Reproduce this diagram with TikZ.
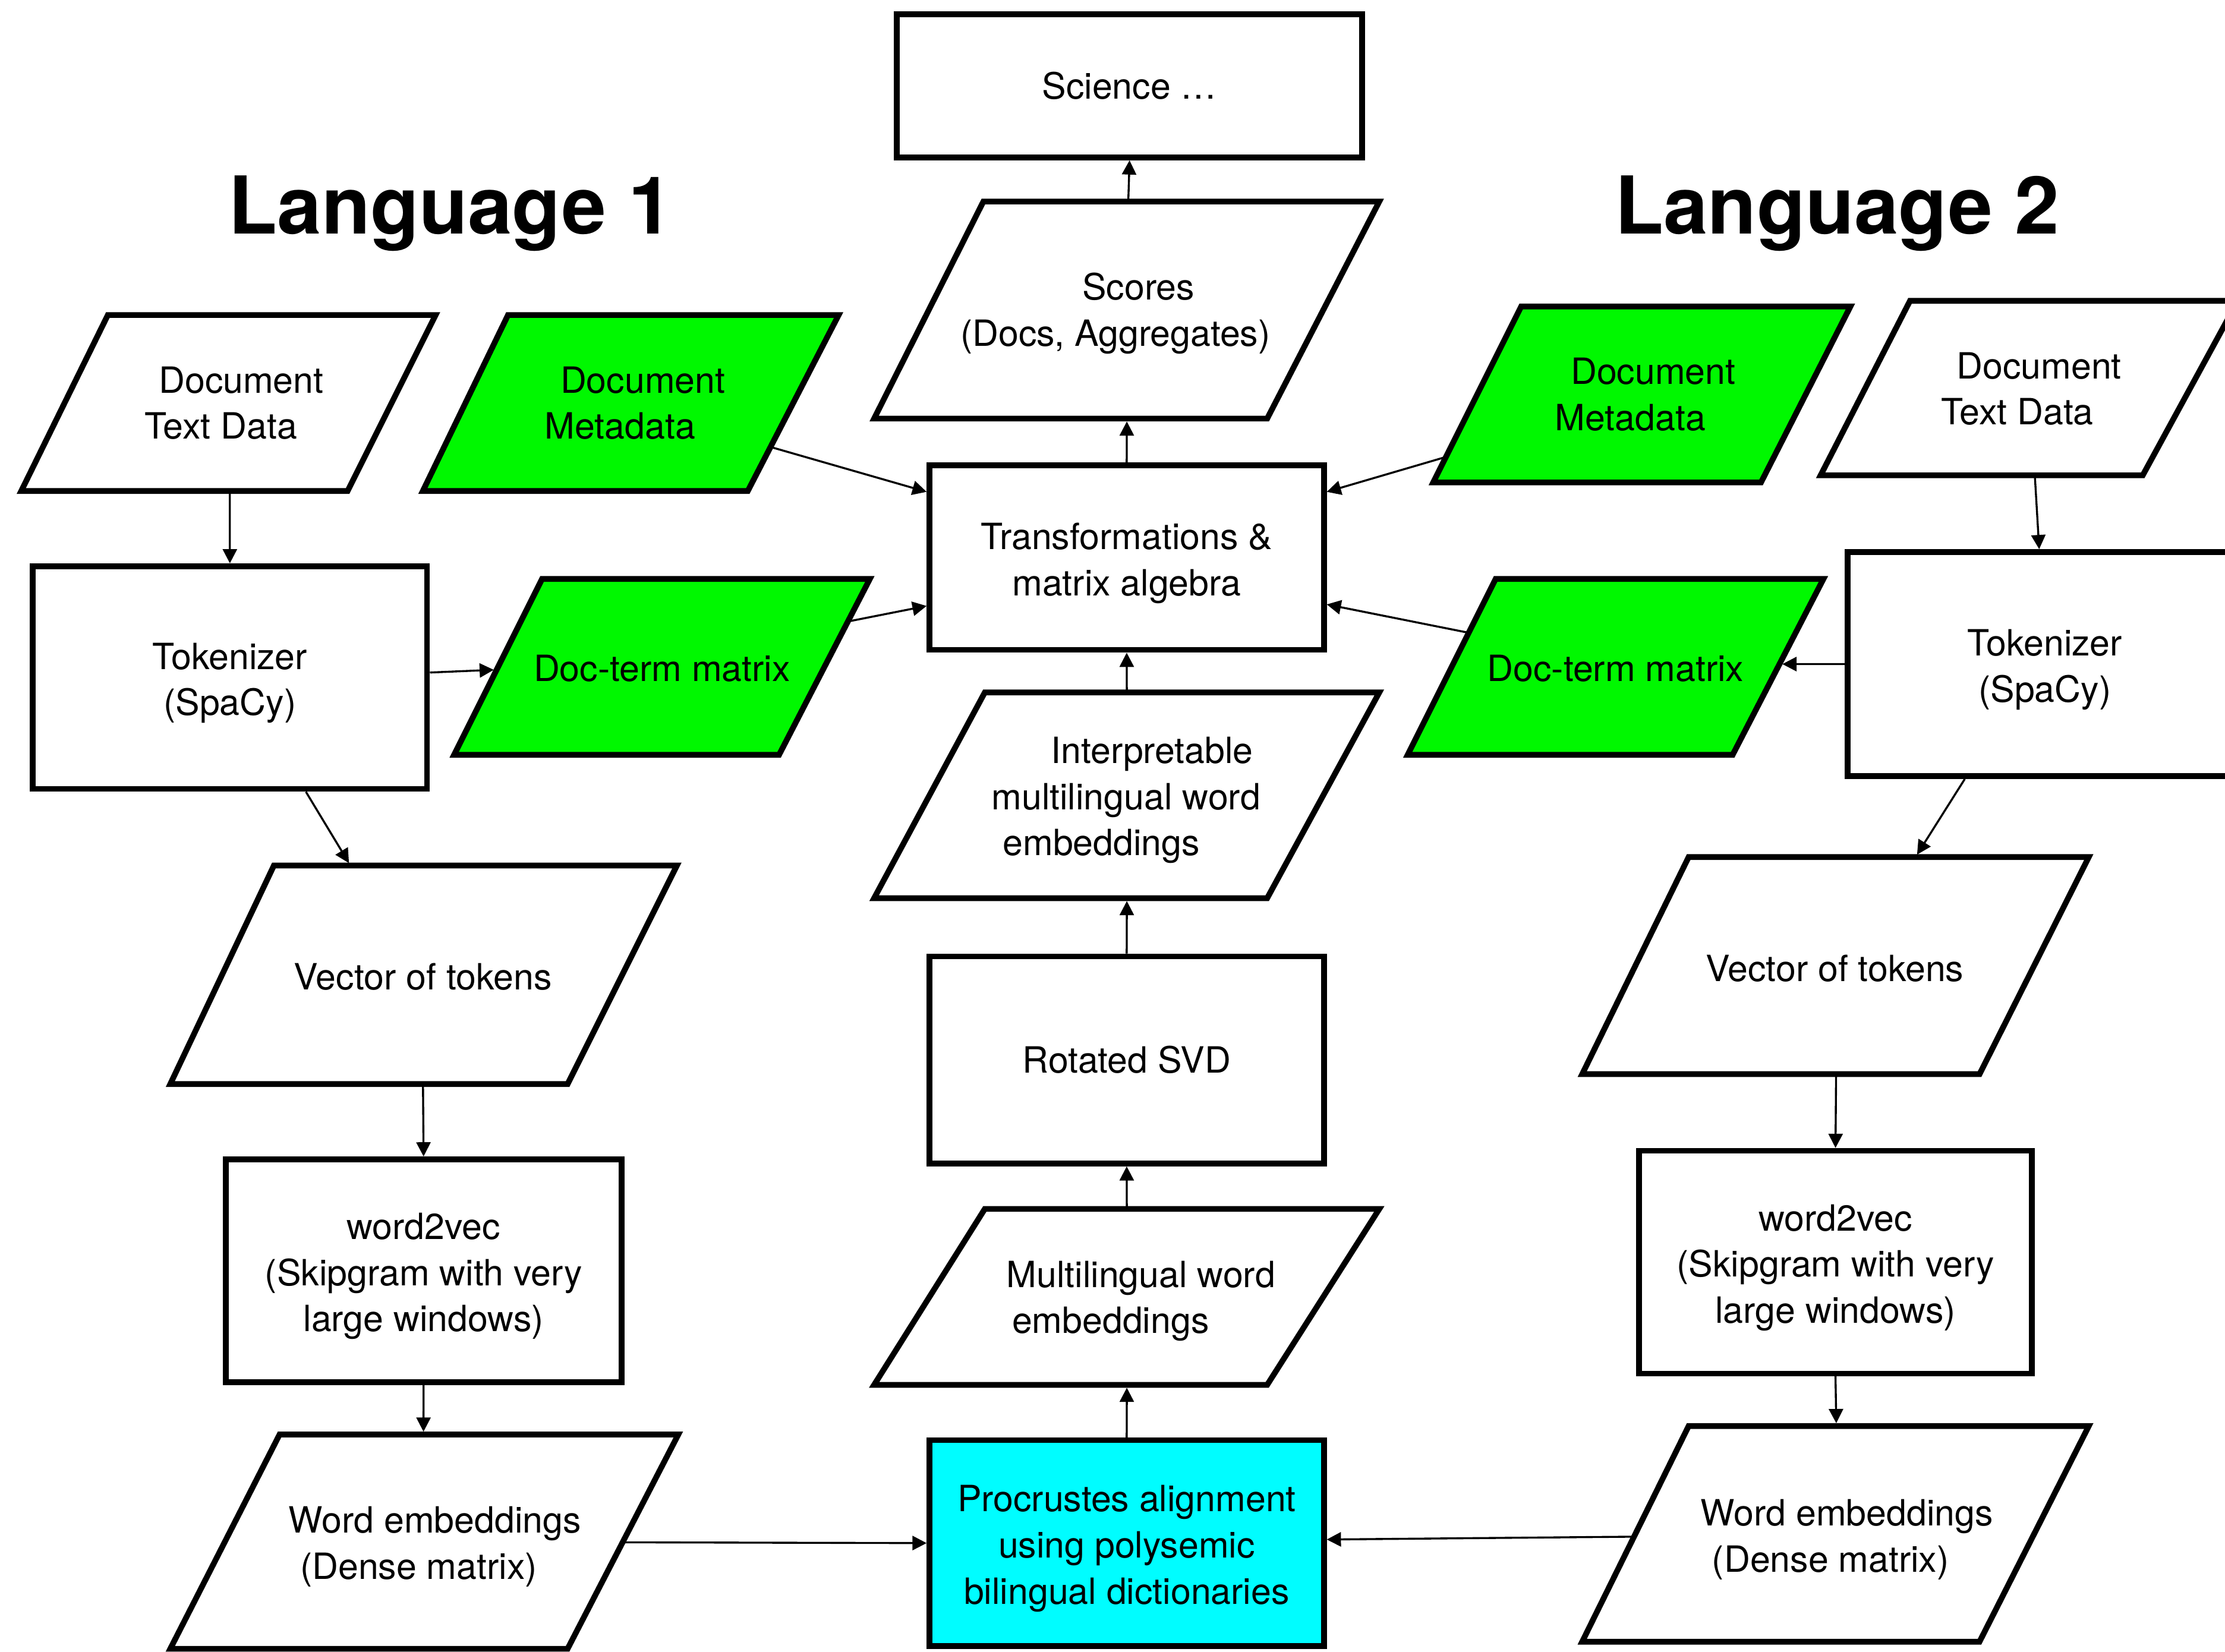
\documentclass[tikz,border=0pt]{standalone}
\usepackage{fontspec}
\setmainfont{TeX Gyre Heros}
\usetikzlibrary{arrows.meta,calc}
\definecolor{gfill}{RGB}{0,248,0}
\definecolor{cfill}{RGB}{0,253,255}
\newcommand\paragram[8]{%
  \draw[shp,fill=#8] (#2,#4) coordinate (#1-tl) -- (#3,#4) coordinate (#1-tr) -- (#6,#7) coordinate (#1-br) -- (#5,#7) coordinate (#1-bl) -- cycle;}
\newcommand\dnstrut{\rule{0pt}{15pt}}
\begin{document}
\begin{tikzpicture}[x=0.02cm,y=-0.02cm,
  shp/.style={draw=black,line width=2.3pt,line join=miter},
  rbox/.style={draw=black,fill=white,line width=2.3pt,inner sep=0pt,align=center,font=\fontsize{14.5}{18.5}\selectfont},
  txt/.style={inner sep=0pt,align=left,font=\fontsize{14.5}{18.5}\selectfont},
  ctxt/.style={inner sep=0pt,align=center,font=\fontsize{14.5}{18.5}\selectfont},
  head/.style={inner sep=0pt,anchor=base,font=\fontsize{32}{38}\selectfont\bfseries},
  arr/.style={line width=0.8pt,-{Triangle[length=0.2cm,width=0.2cm]}},
  parr/.style={arr,shorten >=1.15pt}]
\useasboundingbox (0,0) rectangle (1568,1164);
\fill[white] (0,0) rectangle (1568,1164);

% headings
\node[head] (lang1) at (317.5,165) {Language 1};
\node[head] (lang2) at (1294.5,165) {Language 2};

% centre column rectangles
\node[rbox,minimum width=6.56cm,minimum height=2.02cm] (sci) at (796,60.5) {Science …};
\node[rbox,minimum width=5.56cm,minimum height=2.6cm] (trans) at (794,393) {\dnstrut Transformations \&\\matrix algebra};
\node[rbox,minimum width=5.56cm,minimum height=2.92cm] (svd) at (794,747) {Rotated SVD};
\node[rbox,fill=cfill,minimum width=5.56cm,minimum height=2.9cm] (proc) at (794,1087.5) {\dnstrut Procrustes alignment\\using polysemic\\bilingual dictionaries};

% left rectangles
\node[rbox,minimum width=5.56cm,minimum height=3.14cm] (tokL) at (162,477.5) {\dnstrut Tokenizer\\(SpaCy)};
\node[rbox,minimum width=5.58cm,minimum height=3.14cm] (w2vL) at (298.5,895.5) {\dnstrut word2vec\\(Skipgram with very\\large windows)};

% right rectangles
\node[rbox,minimum width=5.56cm,minimum height=3.16cm] (tokR) at (1441,468) {\dnstrut Tokenizer\\(SpaCy)};
\node[rbox,minimum width=5.54cm,minimum height=3.14cm] (w2vR) at (1293.5,889.5) {\dnstrut word2vec\\(Skipgram with very\\large windows)};

% parallelograms
\paragram{scP}{693}{972}{142}{616}{893}{295}{white}
\paragram{inP}{694}{972}{488}{616}{893}{633}{white}
\paragram{muP}{694}{972}{852}{616}{893}{976}{white}
\paragram{dtLP}{76}{307}{222}{15}{245}{346}{white}
\paragram{dmLP}{358}{591}{222}{298}{527}{346}{gfill}
\paragram{dxLP}{382}{613}{408}{320}{549}{532}{gfill}
\paragram{veLP}{193}{477}{610}{120}{400}{764}{white}
\paragram{weLP}{197}{478}{1011}{120}{400}{1162}{white}
\paragram{dmRP}{1072}{1304}{216}{1010}{1241}{340}{gfill}
\paragram{dtRP}{1346}{1577}{212}{1283}{1510}{335}{white}
\paragram{dxRP}{1054}{1285}{408}{992}{1221}{532}{gfill}
\paragram{veRP}{1190}{1472}{604}{1115}{1395}{757}{white}
\paragram{weRP}{1190}{1472}{1005}{1115}{1395}{1157}{white}

% parallelogram texts
\node[txt] (scores) at (786,221) {\hspace*{1.72cm}Scores\\(Docs, Aggregates)};
\node[txt] (interp) at (793.5,564) {\hspace*{0.84cm}Interpretable\\multilingual word\\\hspace*{0.16cm}embeddings};
\node[txt] (multi) at (804,917) {Multilingual word\\\hspace*{0.08cm}embeddings};
\node[txt] (dtL) at (165,284) {\hspace*{0.2cm}Document\\Text Data};
\node[txt] (dmL) at (447.5,284) {\hspace*{0.22cm}Document\\Metadata};
\node[ctxt] (dxL) at (466.5,471) {Doc-term matrix};
\node[ctxt] (veL) at (298,688.5) {Vector of tokens};
\node[txt] (weL) at (306.5,1090) {Word embeddings\\\hspace*{0.16cm}(Dense matrix)};
\node[txt] (dmR) at (1159.5,278) {\hspace*{0.22cm}Document\\Metadata};
\node[txt] (dtR) at (1431.5,274) {\hspace*{0.22cm}Document\\Text Data};
\node[ctxt] (dxR) at (1138.5,471) {Doc-term matrix};
\node[ctxt] (veR) at (1293,682.5) {Vector of tokens};
\node[txt] (weR) at (1301.5,1085) {Word embeddings\\\hspace*{0.16cm}(Dense matrix)};

% connectors, left
\draw[arr] ($(dtLP-bl)!0.639!(dtLP-br)$) -- (tokL.north);
\draw[parr] ($(tokL.north east)!0.478!(tokL.south east)$) -- ($(dxLP-tl)!0.516!(dxLP-bl)$);
\draw[parr] ($(tokL.south west)!0.69!(tokL.south east)$) -- ($(veLP-tl)!0.19!(veLP-tr)$);
\draw[arr] ($(veLP-bl)!0.636!(veLP-br)$) -- (w2vL.north);
\draw[parr] (w2vL.south) -- ($(weLP-tl)!0.361!(weLP-tr)$);
\draw[arr] ($(weLP-tr)!0.503!(weLP-br)$) -- (proc.west);
\draw[arr] ($(dmLP-tr)!0.75!(dmLP-br)$) -- ($(trans.north west)!0.154!(trans.south west)$);
\draw[arr] ($(dxLP-tr)!0.242!(dxLP-br)$) -- ($(trans.north west)!0.754!(trans.south west)$);

% connectors, centre
\draw[parr] (trans.north) -- ($(scP-bl)!0.643!(scP-br)$);
\draw[arr] ($(scP-tl)!0.366!(scP-tr)$) -- (sci.south);
\draw[arr] ($(inP-tl)!0.36!(inP-tr)$) -- (trans.south);
\draw[parr] (svd.north) -- ($(inP-bl)!0.643!(inP-br)$);
\draw[arr] ($(muP-tl)!0.36!(muP-tr)$) -- (svd.south);
\draw[parr] (proc.north) -- ($(muP-bl)!0.643!(muP-br)$);

% connectors, right
\draw[arr] ($(dmRP-tl)!0.855!(dmRP-bl)$) -- ($(trans.north east)!0.154!(trans.south east)$);
\draw[arr] ($(dxRP-tl)!0.306!(dxRP-bl)$) -- ($(trans.north east)!0.746!(trans.south east)$);
\draw[parr] (tokR.west) -- ($(dxRP-tr)!0.484!(dxRP-br)$);
\draw[arr] ($(dtRP-bl)!0.665!(dtRP-br)$) -- ($(tokR.north west)!0.486!(tokR.north east)$);
\draw[parr] ($(tokR.south west)!0.3!(tokR.south east)$) -- ($(veRP-tl)!0.567!(veRP-tr)$);
\draw[arr] ($(veRP-bl)!0.639!(veRP-br)$) -- (w2vR.north);
\draw[parr] (w2vR.south) -- ($(weRP-tl)!0.369!(weRP-tr)$);
\draw[arr] ($(weRP-tl)!0.513!(weRP-bl)$) -- ($(proc.north east)!0.483!(proc.south east)$);
\end{tikzpicture}
\end{document}
